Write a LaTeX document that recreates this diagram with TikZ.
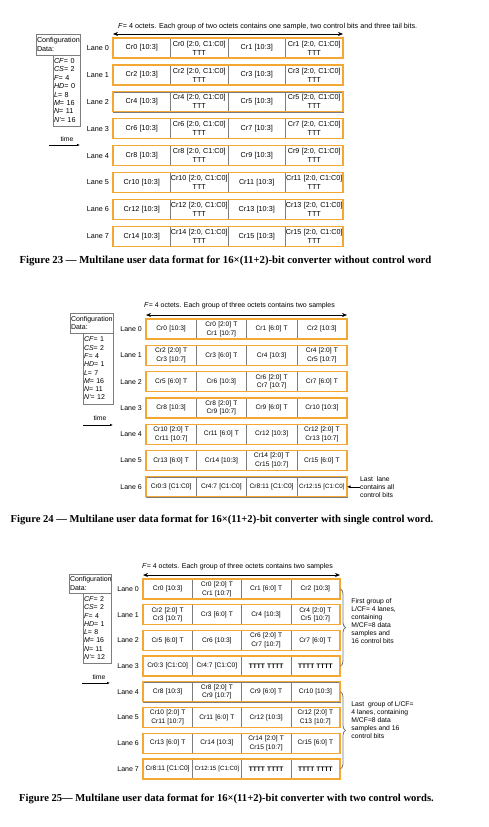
\documentclass[tikz,border=0pt]{standalone}
\usepackage{fontspec}
\setmainfont{Liberation Serif}
\setsansfont{Liberation Sans}
\usetikzlibrary{positioning,arrows.meta,decorations.pathreplacing}
\definecolor{laneorange}{RGB}{243,168,52}
\definecolor{cellgray}{RGB}{125,125,125}
\tikzset{
  cell/.style={draw=cellgray, line width=0.5pt, minimum height=20pt, inner sep=0pt, outer sep=0pt, align=center},
  lanebox/.style={draw=laneorange, line width=1.3pt},
  lanelabel/.style={inner sep=0pt},
  cfgbox/.style={draw=cellgray, line width=0.6pt, align=left, inner xsep=1pt, inner ysep=2pt, outer sep=0pt},
  spanarrow/.style={{Stealth[length=5pt,width=4pt]}-{Stealth[length=5pt,width=4pt]}, line width=0.7pt},
  timearrow/.style={-{Latex[length=3pt,width=2.5pt]}, line width=0.6pt},
  notearrow/.style={-{Latex[length=3.5pt,width=3pt]}, line width=0.6pt},
  groupbrace/.style={decorate, decoration={brace, amplitude=5pt, raise=0.5pt}, line width=0.8pt, draw=black!55},
  notetext/.style={inner sep=0pt, align=left, font=\sffamily\fontsize{6.8}{8}\selectfont},
  caption/.style={inner sep=0pt, font=\bfseries\fontsize{10.6}{12}\selectfont},
}
\begin{document}
\begin{tikzpicture}[x=1pt,y=-1pt]
    \useasboundingbox (0,0) rectangle (489,827);
    % Figure 23
    \begin{scope}[shift={(113,38)}, font=\sffamily\fontsize{7.2}{9}\selectfont, cell/.append style={text width=57.5pt}]
        \node[anchor=west, inner sep=0pt] (ftxta) at (5,-11) {\textit{F}= 4 octets. Each group of two octets contains one sample, two control bits and three tail bits.};
        \foreach \i [evaluate=\i as \e using int(2*\i), evaluate=\i as \o using int(2*\i+1)] in {0,...,7}{
            \node[cell, anchor=north west] (a\i-1) at (0,26.9*\i) {Cr\e{} [10:3]};
            \node[cell, right=0pt of a\i-1] (a\i-2) {Cr\e{} [2:0, C1:C0]\\TTT};
            \node[cell, right=0pt of a\i-2] (a\i-3) {Cr\o{} [10:3]};
            \node[cell, right=0pt of a\i-3] (a\i-4) {Cr\o{} [2:0, C1:C0]\\TTT};
            \draw[lanebox] (a\i-1.north west) rectangle (a\i-4.south east);
            \node[lanelabel, left=4pt of a\i-1] (la\i) {Lane \i};
        }
        \draw[spanarrow] ([yshift=4pt]a0-1.north west) -- ([yshift=4pt]a0-4.north east);
        \node[cfgbox, anchor=north west, text width=42pt, minimum height=21pt] (cfga) at (-77,-4) {Configuration\\Data:};
        \node[cfgbox, anchor=north east, text width=25pt, minimum height=71pt, font=\sffamily\fontsize{7.2}{8.4}\selectfont] (cfgb) at (cfga.south east)
            {\textit{CF}= 0\\\textit{CS}= 2\\\textit{F}= 4\\\textit{HD}= 0\\\textit{L}= 8\\\textit{M}= 16\\\textit{N}= 11\\\textit{N'}= 16};
        \coordinate (ta0) at (-64,107);
        \coordinate (ta1) at (-33,107);
        \draw[timearrow] (ta0) -- (ta1);
        \node[inner sep=0pt, font=\sffamily\fontsize{6.8}{8}\selectfont] (timea) at (-46,101) {time};
    \end{scope}
    \node[caption, font=\bfseries\fontsize{10.75}{12}\selectfont] (capa) at (225.5,261) {Figure 23 — Multilane user data format for 16×(11+2)-bit converter without control word};
    % Figure 24
    \begin{scope}[shift={(146,319)}, font=\sffamily\fontsize{7}{8.6}\selectfont, cell/.append style={text width=50.25pt, font=\sffamily\fontsize{6.6}{8.6}\selectfont}]
        \node[anchor=west, inner sep=0pt] (ftxtb) at (-2,-13) {\textit{F}= 4 octets. Each group of three octets contains two samples};
        \foreach \i/\ca/\cb/\cc/\cd in {
            0/{Cr0 [10:3]}/{Cr0 [2:0] T\\Cr1 [10:7]}/{Cr1 [6:0] T}/{Cr2 [10:3]},
            1/{Cr2 [2:0] T\\Cr3 [10:7]}/{Cr3 [6:0] T}/{Cr4 [10:3]}/{Cr4 [2:0] T\\Cr5 [10:7]},
            2/{Cr5 [6:0] T}/{Cr6 [10:3]}/{Cr6 [2:0] T\\Cr7 [10:7]}/{Cr7 [6:0] T},
            3/{Cr8 [10:3]}/{Cr8 [2:0] T\\Cr9 [10:7]}/{Cr9 [6:0] T}/{Cr10 [10:3]},
            4/{Cr10 [2:0] T\\Cr11 [10:7]}/{Cr11 [6:0] T}/{Cr12 [10:3]}/{Cr12 [2:0] T\\Cr13 [10:7]},
            5/{Cr13 [6:0] T}/{Cr14 [10:3]}/{Cr14 [2:0] T\\Cr15 [10:7]}/{Cr15 [6:0] T},
            6/{Cr0:3 [C1:C0]}/{Cr4:7 [C1:C0]}/{Cr8:11 [C1:C0]}/{\fontsize{6.2}{8}\selectfont Cr12:15 [C1:C0]}}{
            \node[cell, anchor=north west] (b\i-1) at (0,26.3*\i) {\ca};
            \node[cell, right=0pt of b\i-1] (b\i-2) {\cb};
            \node[cell, right=0pt of b\i-2] (b\i-3) {\cc};
            \node[cell, right=0pt of b\i-3] (b\i-4) {\cd};
            \draw[lanebox] (b\i-1.north west) rectangle (b\i-4.south east);
            \node[lanelabel, left=4pt of b\i-1] (lb\i) {Lane \i};
        }
        \draw[spanarrow] ([yshift=4pt]b0-1.north west) -- ([yshift=4pt]b0-4.north east);
        \node[cfgbox, anchor=north west, text width=41pt, minimum height=20pt] (cfgc) at (-76,-6) {Configuration\\Data:};
        \node[cfgbox, anchor=north east, text width=28pt, minimum height=71pt, font=\sffamily\fontsize{7}{8.3}\selectfont] (cfgd) at (cfgc.south east)
            {\textit{CF}= 1\\\textit{CS}= 2\\\textit{F}= 4\\\textit{HD}= 1\\\textit{L}= 7\\\textit{M}= 16\\\textit{N}= 11\\\textit{N'}= 12};
        \coordinate (tb0) at (-63,106);
        \coordinate (tb1) at (-33,106);
        \draw[timearrow] (tb0) -- (tb1);
        \node[inner sep=0pt, font=\sffamily\fontsize{6.8}{8}\selectfont] (timeb) at (-46,99) {time};
        \node[notetext, right=13pt of b6-4] (lastnote) {Last\ \ lane\\contains all\\control bits};
        \draw[notearrow] (lastnote.west) -- (b6-4.east);
    \end{scope}
    \node[caption] (capb) at (222,520) {Figure 24 — Multilane user data format for 16×(11+2)-bit converter with single control word.};
    % Figure 25
    \begin{scope}[shift={(143,579)}, font=\sffamily\fontsize{7}{8.6}\selectfont, cell/.append style={text width=49.25pt, font=\sffamily\fontsize{6.6}{8.6}\selectfont}]
        \node[anchor=west, inner sep=0pt] (ftxtc) at (-1,-12) {\textit{F}= 4 octets. Each group of three octets contains two samples};
        \foreach \i/\ca/\cb/\cc/\cd in {
            0/{Cr0 [10:3]}/{Cr0 [2:0] T\\Cr1 [10:7]}/{Cr1 [6:0] T}/{Cr2 [10:3]},
            1/{Cr2 [2:0] T\\Cr3 [10:7]}/{Cr3 [6:0] T}/{Cr4 [10:3]}/{Cr4 [2:0] T\\Cr5 [10:7]},
            2/{Cr5 [6:0] T}/{Cr6 [10:3]}/{Cr6 [2:0] T\\Cr7 [10:7]}/{Cr7 [6:0] T},
            3/{Cr0:3 [C1:C0]}/{Cr4:7 [C1:C0]}/{\textbf{TTTT TTTT}}/{\textbf{TTTT TTTT}},
            4/{Cr8 [10:3]}/{Cr8 [2:0] T\\Cr9 [10:7]}/{Cr9 [6:0] T}/{Cr10 [10:3]},
            5/{Cr10 [2:0] T\\Cr11 [10:7]}/{Cr11 [6:0] T}/{Cr12 [10:3]}/{Cr12 [2:0] T\\C13 [10:7]},
            6/{Cr13 [6:0] T}/{Cr14 [10:3]}/{Cr14 [2:0] T\\Cr15 [10:7]}/{Cr15 [6:0] T},
            7/{Cr8:11 [C1:C0]}/{\fontsize{6.1}{8}\selectfont Cr12:15 [C1:C0]}/{\textbf{TTTT TTTT}}/{\textbf{TTTT TTTT}}}{
            \node[cell, anchor=north west] (c\i-1) at (0,25.7*\i) {\ca};
            \node[cell, right=0pt of c\i-1] (c\i-2) {\cb};
            \node[cell, right=0pt of c\i-2] (c\i-3) {\cc};
            \node[cell, right=0pt of c\i-3] (c\i-4) {\cd};
            \draw[lanebox] (c\i-1.north west) rectangle (c\i-4.south east);
            \node[lanelabel, left=4pt of c\i-1] (lc\i) {Lane \i};
        }
        \draw[spanarrow] ([yshift=4pt]c0-1.north west) -- ([yshift=4pt]c0-4.north east);
        \node[cfgbox, anchor=north west, text width=40pt, minimum height=19pt] (cfge) at (-74,-5) {Configuration\\Data:};
        \node[cfgbox, anchor=north east, text width=26pt, minimum height=70pt, font=\sffamily\fontsize{7}{8.3}\selectfont] (cfgf) at (cfge.south east)
            {\textit{CF}= 2\\\textit{CS}= 2\\\textit{F}= 4\\\textit{HD}= 1\\\textit{L}= 8\\\textit{M}= 16\\\textit{N}= 11\\\textit{N'}= 12};
        \coordinate (tc0) at (-61,104);
        \coordinate (tc1) at (-33,104);
        \draw[timearrow] (tc0) -- (tc1);
        \node[inner sep=0pt, font=\sffamily\fontsize{6.8}{8}\selectfont] (timec) at (-44,98) {time};
        \draw[groupbrace] (c0-4.east) -- (c3-4.east)
            node[notetext, midway, anchor=west, xshift=11pt, yshift=6pt] (grpa) {First group of\\L/CF= 4 lanes,\\containing\\M/CF=8 data\\samples and\\16 control bits};
        \draw[groupbrace] (c4-4.east) -- (c7-4.east)
            node[notetext, midway, anchor=west, xshift=11pt, yshift=10pt] (grpb) {Last\ \ group of L/CF=\\4 lanes, containing\\M/CF=8 data\\samples and 16\\control bits};
    \end{scope}
    \node[caption] (capc) at (226.5,799) {Figure 25— Multilane user data format for 16×(11+2)-bit converter with two control words.};
\end{tikzpicture}
\end{document}
